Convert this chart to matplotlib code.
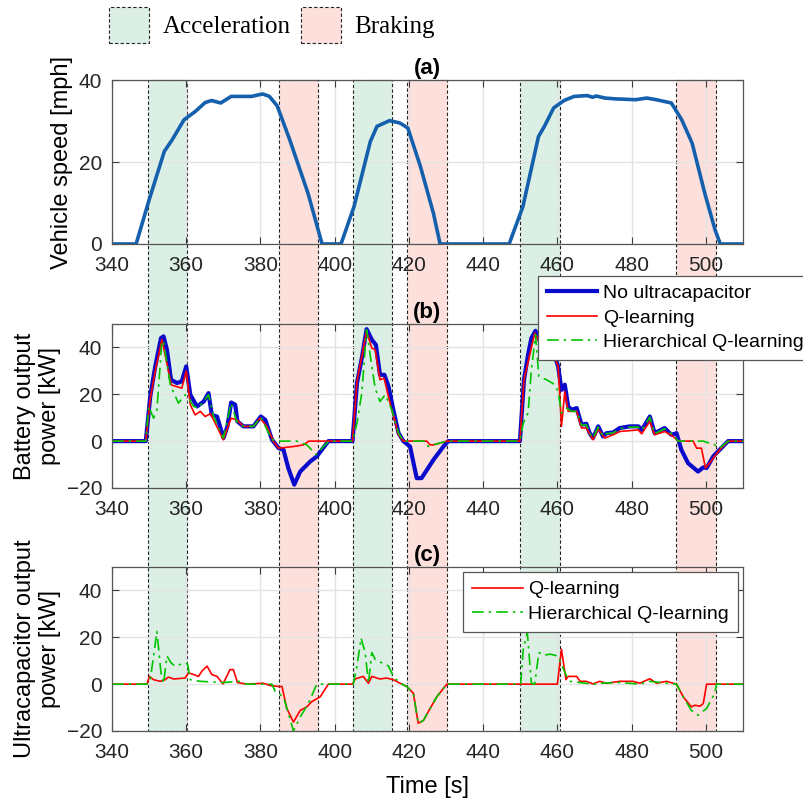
import matplotlib
matplotlib.use("Agg")
from matplotlib import pyplot as plt
from matplotlib import rcParams
from matplotlib.patches import Rectangle, Patch
import matplotlib.transforms as mtransforms

# ---- drive cycle: vehicle speed [mph]
t_speed = [340, 346.5, 350, 354.1, 356.2, 359.4, 362.4, 365.1, 366.8, 369.3, 372.1, 377.6, 380.6, 382.4,
           384.5, 387.9, 392.8, 396.6, 401.7, 405.2, 409.6, 411.4, 414.8, 417.6, 419.7, 423.1, 426.6, 428.4,
           447, 450.7, 454.9, 456.5, 459.0, 461.8, 464.5, 468, 469.5, 470.5, 472.8, 475.6, 481.1, 484.1,
           486.6, 490.7, 493.5, 496.3, 499.7, 502.5, 503.9, 510]
speed = [0, 0, 10.75, 22.6, 25.4, 30.3, 32.3, 34.5, 35.0, 34.4, 36.0, 36.0, 36.6, 36.0,
         33.7, 25.4, 12.4, 0, 0, 9.1, 25, 28.7, 30.1, 29.5, 28.3, 18.9, 7.5, 0,
         0, 9.1, 26.2, 28.7, 33.2, 35.0, 36.0, 36.2, 35.8, 36.1, 35.6, 35.4, 35.2, 35.6,
         35.2, 34.4, 30.3, 24.6, 12.4, 3.4, 0, 0]

# ---- battery power [kW], no ultracapacitor
t_bat_noUC = [340, 349.1, 350.3, 351.65, 353.2, 353.9, 354.8, 355.9, 357.5, 358.8, 360, 361.1, 362.9, 364.7,
              366, 366.9, 368.3, 370.05, 371.1, 372.1, 373.2, 373.8, 375.4, 378.1, 380.1, 381.3, 383.1,
              384.9, 386.2, 387.5, 389.1, 390.7, 393.4, 395.2, 398.3, 404.8, 406, 407.3, 408.6, 410,
              411.1, 412.2, 413.4, 414.5, 415.8, 417.2, 418.5, 420.3, 422.1, 423.4, 426.6, 429.3, 430.6,
              449.9, 451, 452.1, 453.0, 454.1, 455.3, 457.1, 459.3, 460.2, 461.1, 462, 462.9, 463.8,
              465.2, 466.5, 467.8, 468.7, 469.6, 471, 472.3, 473.2, 475, 476.8, 479.5, 481.8, 482.7,
              483.6, 484.9, 486.2, 488.9, 490.7, 492.1, 493.4, 495.2, 497.9, 499.3, 500.2, 502, 503.7,
              506, 510]
p_bat_noUC = [0, 0, 19, 31.9, 44, 44.7, 39, 26.2, 24.8, 25.5, 31.9, 19.8, 14.8, 16.9,
              20.5, 11.2, 10.5, 1.3, 6.3, 16.5, 15.5, 8.4, 6.3, 6.3, 10.5, 9.1, 0.6,
              -3, -3.7, -11.5, -18.6, -13, -8.7, -6.5, 0, 0, 24.8, 35.4, 47.8, 43.3,
              41.1, 28.3, 28.3, 23.3, 13.4, 3.4, 0, -2.3, -15.8, -15.8, -8, -2.3, 0,
              0, 26.2, 36.9, 44, 47.1, 42.6, 39, 36.2, 31.9, 21.9, 24.1, 14.8, 13.4,
              14.1, 7, 7.4, 3.4, 1.3, 6.3, 2, 3.4, 3.7, 5.6, 6.3, 6.3, 4.8,
              7, 10.5, 3.4, 5.6, 2.7, 3.4, -3.7, -9.4, -13, -11.2, -11.5, -6.5, -3.7,
              0, 0]

# ---- battery power [kW], Q-learning
t_bat_ql = [340, 349.1, 350.3, 351.65, 353.45, 356, 358.8, 360, 361.1, 362.4, 363.8, 365.1, 366.5, 367.8,
            370, 372.1, 373.6, 375.4, 378.1, 379.9, 381.7, 383.5, 384.9, 388.9, 391.6, 393, 404.8, 406,
            408.6, 410, 410.9, 412.2, 413.3, 414.9, 417.2, 418.5, 424.8, 425.7, 426.6, 430.2, 449.9, 451,
            453.9, 455.3, 459.3, 460.2, 461.1, 462, 462.9, 465.2, 466.5, 467.8, 469.6, 471, 472.8, 475,
            476.8, 481.8, 482.7, 484.9, 486.2, 488.9, 491.2, 492.5, 496.6, 497.5, 498.8, 499.9, 501,
            503.7, 506, 510]
p_bat_ql = [0, 0, 18, 30, 43.3, 24, 22.6, 29.9, 15.5, 11.2, 12.7, 10.5, 11.7, 7.7,
            0.6, 9.8, 9.1, 6.3, 6.3, 9.8, 6.3, -0.1, -3, -2.3, -1.6, 0, 0, 25.5,
            46.8, 39.7, 39, 26.2, 26.9, 16.2, 2.7, 0, 0, -1.6, -1.6, 0, 0, 26.2,
            46.1, 41.8, 35.4, 31.9, 6.3, 21.2, 12.7, 12.7, 5.6, 5.6, 0.6, 5.1, 1.3, 2.7,
            4.1, 4.8, 3.1, 8.4, 2.7, 4.1, 2, 0, 0, -3, -3, -11.5, -9.4,
            -3.7, 0, 0]

# ---- battery power [kW], hierarchical Q-learning
t_bat_hql = [340, 349.1, 349.9, 351.2, 352.1, 353.45, 353.9, 355.7, 357.9, 359.7, 360.6, 362, 363.3, 366,
             367.4, 370, 372.1, 373.6, 375.4, 378.1, 380.1, 383.1, 384.9, 389.8, 392.5, 395, 398.3, 404.8,
             406, 407.3, 408.6, 410, 410.9, 412.2, 413.6, 415.4, 417.2, 418.5, 424.3, 425.2, 426.6, 430.2,
             449.9, 450.8, 452.1, 453, 454.1, 455, 457.1, 459.3, 460.2, 461.1, 462.5, 463.8, 465.2, 466.5,
             467.8, 468.7, 469.6, 471, 472.3, 473.2, 475, 476.8, 479.5, 481.8, 482.7, 483.6, 484.9, 486.2,
             488.9, 491.2, 492.5, 499.3, 502.4, 503.7, 506, 510]
p_bat_hql = [0, 0, 14.8, 9.8, 13.4, 42.6, 42.6, 24, 16.2, 19.8, 18.4, 14.8, 14.1, 19.8,
             10.5, 1.3, 16.2, 8.4, 6.3, 6.3, 10.2, 0.6, 0, 0, -1.6, -5.8, 0, 0,
             7.7, 20.5, 47.5, 31.9, 22.6, 16.9, 19.8, 13.4, 3.4, 0, 0, -2.3, -1.6, 0,
             0, 7.7, 12, 30.5, 45.4, 27.6, 26.2, 24.1, 21.2, 12, 14.1, 12.7, 12.7, 6.8,
             7, 3.4, 1.3, 6, 2, 3.2, 3.5, 5.3, 6, 6, 4.6, 6.7, 10.2, 3.2,
             5.3, 2.7, 0, 0, -1.6, -3, 0, 0]

# ---- ultracapacitor power [kW], Q-learning
t_uc_ql = [340, 349.4, 350.1, 351.2, 353, 354.3, 355.2, 356.6, 359.7, 360.6, 362, 363.3, 364.2, 365.6,
           366.9, 368.3, 369.9, 371.8, 372.7, 373.8, 376.3, 380.8, 382.6, 384.9, 385.8, 387.1, 388.9,
           390.7, 392.5, 393.8, 396.1, 398.3, 404.8, 405.5, 407.7, 409.1, 410, 412.2, 414, 415.8, 417.6,
           419.4, 421.2, 422.5, 423.9, 425.7, 427.5, 430.2, 460, 461.1, 462.3, 462.9, 465.2, 466.1,
           467.8, 469.6, 471.4, 473.2, 476.8, 480.4, 482.2, 484.9, 486.7, 489.4, 492.1, 493.9, 496.1,
           497, 498.4, 499.3, 500.2, 510]
p_uc_ql = [0, 0, 3.3, 1.9, 1.2, 1.9, 3, 2.2, 2.6, 4.8, 4.1, 3.3, 5.5, 7.7,
           4.1, 3.3, 0.1, 6.2, 6.2, 0.7, 0, 0.4, -0.6, -1, -1, -10.4, -16.2,
           -11.2, -9.7, -7.5, -5.4, 0, 0, 2.2, 3.3, 0.4, 3.3, 2.2, 2.6, 1.9, 0.4,
           -1, -3.9, -16.7, -15.5, -10.4, -5.4, 0, 0, 14.9, 1.9, 3.3, 3.3, 1.2,
           1.2, 0.1, 1.2, 0.4, 1.2, 1.2, 0.4, 2.3, 0.4, 1.2, 0, -5.4, -9.7,
           -9, -9.4, -8.3, 0, 0]

# ---- ultracapacitor power [kW], hierarchical Q-learning
t_uc_hql = [340, 349.4, 350.3, 351.2, 352.1, 353.2, 353.9, 354.8, 355.9, 357, 359.7, 360.4, 361.1, 363.8,
            370.05, 374.5, 376.3, 383.1, 384, 386.2, 388.9, 390.7, 392.9, 394.7, 395.2, 405, 406, 407.1,
            408.2, 409.1, 410, 410.9, 412.7, 414.5, 415.8, 417.6, 419.4, 421.2, 422.5, 423.9, 425.7,
            427.5, 430.2, 450.1, 450.8, 451.9, 453, 453.9, 455, 456.2, 458, 460.2, 461.1, 462.5, 463.4,
            469.6, 471.4, 476.8, 482.2, 484.9, 492.1, 493.9, 496.1, 497.9, 500.2, 502.4, 502.9, 510]
p_uc_hql = [0, 0, 1.9, 12, 22.5, 4.8, 0.4, 12, 9.1, 7.7, 9.1, 8.4, 1.9, 1.2,
            0.7, 1.2, 0, 0, -3.2, -5.4, -20, -14, -8.3, -1.7, 0, 0, 7.7, 19.7,
            13.5, 0.4, 13.5, 10.6, 9.1, 7.7, 3.3, 0.4, -1, -3.9, -16.7, -15.5, -10.4,
            -5.4, 0, 0, 14.9, 21.9, 0.4, 0, 13.5, 12.3, 12.8, 12, 8.4, 3.3, 1.2,
            0, 0.4, 0.7, 0, 1.2, 0, -5.4, -11.2, -13.3, -10.4, -3.9, 0, 0]

# acceleration / braking windows [s]
accel_windows = [(349.6, 360.3), (404.8, 415.5), (450.0, 460.7)]
brake_windows = [(385.0, 395.6), (419.6, 430.2), (492.0, 502.6)]

x_ticks = [340, 360, 380, 400, 420, 440, 460, 480, 500]

rcParams["font.family"] = "Liberation Sans"
rcParams["font.size"] = 14

c_acc = '#dcefe5'
c_brk = '#fde0dc'
c_speed = '#1560ad'
c_blue = '#0a0acc'
c_red = '#ff0000'
c_green = '#00c400'
c_ax = '#3a3a3a'
dashdot = (0, (7, 3, 1.5, 3))

fig = plt.figure(figsize=(8.04, 8.01), dpi=100)

left, width, height = 0.1393, 0.7848, 0.2047
ax_a = fig.add_axes([left, 0.6954, width, height])
ax_b = fig.add_axes([left, 0.3908, width, height])
ax_c = fig.add_axes([left, 0.0874, width, height])

for ax in (ax_a, ax_b, ax_c):
    ax.set_facecolor('none')
    ax.set_xlim(340, 510)
    ax.set_xticks(x_ticks)
    ax.grid(True, color='#e3e3e3', linewidth=1.0)
    ax.set_axisbelow(True)
    ax.tick_params(direction='in', top=True, right=True, length=5, width=0.8,
                   colors=c_ax, labelsize=15, labelcolor='#262626')
    ax.tick_params(axis='x', pad=9)
    ax.tick_params(axis='y', pad=7)
    for s in ax.spines.values():
        s.set_edgecolor('#555555')
        s.set_linewidth(0.9)

# shaded windows spanning all three panels
trans = mtransforms.blended_transform_factory(ax_a.transData, fig.transFigure)
y0 = 0.0874
y1 = 0.6954 + height
for (a, b), col in [(w, c_acc) for w in accel_windows] + [(w, c_brk) for w in brake_windows]:
    fig.patches.append(Rectangle((a, y0), b - a, y1 - y0, transform=trans, facecolor=col,
                                 edgecolor='#222222', linestyle=(0, (3, 2)), linewidth=0.8, zorder=-5))

# (a) vehicle speed
ax_a.plot(t_speed, speed, color=c_speed, linewidth=2.6)
ax_a.set_ylim(0, 40)
ax_a.set_yticks([0, 20, 40])
ax_a.set_ylabel('Vehicle speed [mph]', fontsize=17)
ax_a.set_title('(a)', fontweight='bold', fontsize=16, pad=4)

legend_kw = dict(fontsize=14, handlelength=2.6, borderaxespad=0, borderpad=0.45, labelspacing=0.36,
                 handletextpad=0.3, fancybox=False, framealpha=1, edgecolor='#555555')

# (b) battery power
ax_b.plot(t_bat_noUC, p_bat_noUC, color=c_blue, linewidth=3.0, label='No ultracapacitor')
ax_b.plot(t_bat_ql, p_bat_ql, color=c_red, linewidth=1.2, label='Q-learning')
ax_b.plot(t_bat_hql, p_bat_hql, color=c_green, linewidth=1.2, linestyle=dashdot,
          label='Hierarchical Q-learning')
ax_b.set_ylim(-20, 50)
ax_b.set_yticks([-20, 0, 20, 40])
ax_b.set_ylabel('Battery output\npower [kW]', fontsize=17)
ax_b.set_title('(b)', fontweight='bold', fontsize=16, pad=4)
leg_b = ax_b.legend(loc='upper left', bbox_to_anchor=(0.675, 1.295), **legend_kw)
leg_b.get_frame().set_linewidth(0.9)

# (c) ultracapacitor power
ax_c.plot(t_uc_ql, p_uc_ql, color=c_red, linewidth=1.2, label='Q-learning')
ax_c.plot(t_uc_hql, p_uc_hql, color=c_green, linewidth=1.2, linestyle=dashdot,
          label='Hierarchical Q-learning')
ax_c.set_ylim(-20, 50)
ax_c.set_yticks([-20, 0, 20, 40])
ax_c.set_ylabel('Ultracapacitor output\npower [kW]', fontsize=17)
ax_c.set_xlabel('Time [s]', fontsize=17, labelpad=10)
ax_c.set_title('(c)', fontweight='bold', fontsize=16, pad=4)
leg_c = ax_c.legend(loc='upper right', bbox_to_anchor=(0.992, 0.97), **legend_kw)
leg_c.get_frame().set_linewidth(0.9)

# legend for the shaded windows
h_acc = Patch(facecolor=c_acc, edgecolor='#222222', linestyle=(0, (3, 2)), linewidth=0.8)
h_brk = Patch(facecolor=c_brk, edgecolor='#222222', linestyle=(0, (3, 2)), linewidth=0.8)
fig.legend([h_acc, h_brk], ['Acceleration', 'Braking'], loc='upper left',
           bbox_to_anchor=(109 / 804, 1 - 7 / 801), ncol=2, frameon=False,
           prop={'family': 'Liberation Serif', 'size': 18}, handlelength=1.6, handleheight=1.85,
           handletextpad=0.55, columnspacing=0.4, borderpad=0, borderaxespad=0)

plt.savefig('out.png', dpi=100)
